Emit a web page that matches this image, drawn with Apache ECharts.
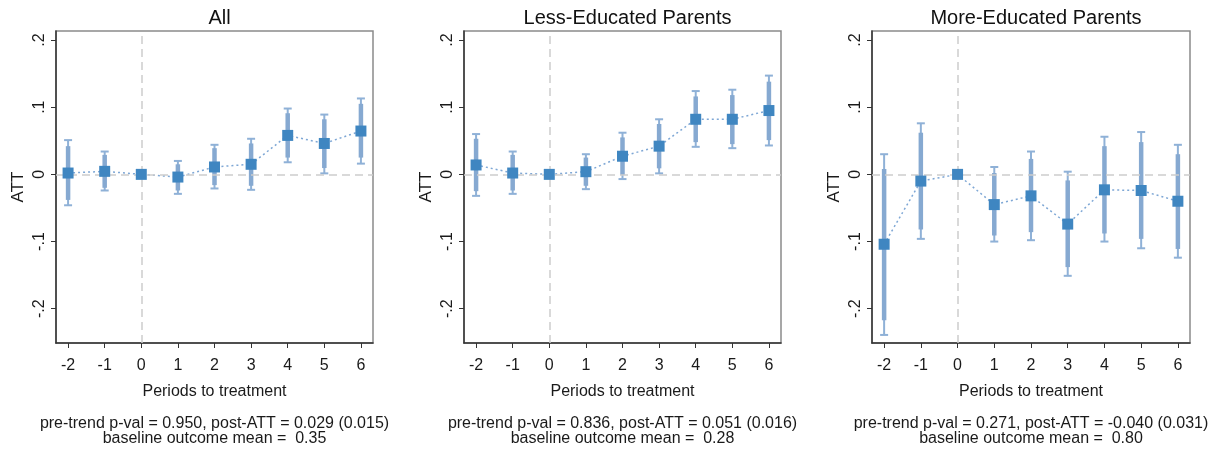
<!DOCTYPE html>
<html>
<head>
<meta charset="utf-8">
<script src="https://cdn.jsdelivr.net/npm/echarts@6/dist/echarts.min.js"></script>
<style>
html,body{margin:0;padding:0;background:#fff;}
#chart{width:1215px;height:451px;}
</style>
</head>
<body>
<div id="chart"></div>
<script>
// ---- data ----
const periods = [-2, -1, 0, 1, 2, 3, 4, 5, 6];
const yTicks = [-0.2, -0.1, 0, 0.1, 0.2];

const panelTitles = ['All', 'Less-Educated Parents', 'More-Educated Parents'];
const statLine1 = [
  'pre-trend p-val = 0.950, post-ATT = 0.029 (0.015)',
  'pre-trend p-val = 0.836, post-ATT = 0.051 (0.016)',
  'pre-trend p-val = 0.271, post-ATT = -0.040 (0.031)'
];
const statLine2 = [
  'baseline outcome mean =  0.35',
  'baseline outcome mean =  0.28',
  'baseline outcome mean =  0.80'
];

const allEst  = [0.002, 0.0045, 0, -0.004, 0.011, 0.015, 0.058, 0.046, 0.0645];
const allLo95 = [-0.046, -0.024, null, -0.029, -0.021, -0.023, 0.018, 0.0015, 0.016];
const allHi95 = [0.051, 0.034, null, 0.020, 0.044, 0.053, 0.098, 0.089, 0.113];
const allLoIn = [-0.038, -0.020, null, -0.024, -0.016, -0.017, 0.025, 0.0094, 0.025];
const allHiIn = [0.042, 0.029, null, 0.015, 0.039, 0.046, 0.091, 0.082, 0.105];

const lessEst  = [0.014, 0.002, 0, 0.004, 0.027, 0.042, 0.082, 0.082, 0.095];
const lessLo95 = [-0.032, -0.029, null, -0.022, -0.007, 0.0015, 0.041, 0.039, 0.043];
const lessHi95 = [0.060, 0.034, null, 0.030, 0.062, 0.082, 0.124, 0.126, 0.147];
const lessLoIn = [-0.025, -0.024, null, -0.017, -0.001, 0.009, 0.048, 0.045, 0.051];
const lessHiIn = [0.053, 0.029, null, 0.025, 0.055, 0.075, 0.116, 0.118, 0.138];

const moreEst  = [-0.104, -0.010, 0, -0.045, -0.032, -0.074, -0.023, -0.024, -0.040];
const moreLo95 = [-0.239, -0.096, null, -0.100, -0.098, -0.151, -0.100, -0.110, -0.124];
const moreHi95 = [0.030, 0.076, null, 0.011, 0.034, 0.004, 0.056, 0.063, 0.044];
const moreLoIn = [-0.217, -0.082, null, -0.091, -0.086, -0.138, -0.088, -0.096, -0.111];
const moreHiIn = [0.008, 0.062, null, 0.002, 0.023, -0.009, 0.042, 0.048, 0.030];

// ---- styling / layout ----
const FONT = "'Liberation Sans', Arial, sans-serif";
const CI_COLOR = '#8fb1d7';
const BAR_COLOR = '#86a9d1';
const MARK_COLOR = '#3f86c1';
const LINE_COLOR = '#7ea7d5';
const REF_COLOR = '#cdcdcd';

const grids = [
  {left: 56, top: 31, width: 317, height: 312},
  {left: 464, top: 31, width: 317, height: 312},
  {left: 872, top: 31, width: 318, height: 312}
];

const panels = [
  {est: allEst, lo95: allLo95, hi95: allHi95, loIn: allLoIn, hiIn: allHiIn},
  {est: lessEst, lo95: lessLo95, hi95: lessHi95, loIn: lessLoIn, hiIn: lessHiIn},
  {est: moreEst, lo95: moreLo95, hi95: moreHi95, loIn: moreLoIn, hiIn: moreHiIn}
];

function yFmt(v) {
  if (Math.abs(v) < 1e-9) return '0';
  return v.toFixed(1).replace('0.', '.');
}

function ciData(lo, hi) {
  const out = [];
  periods.forEach((p, i) => {
    if (lo[i] != null && hi[i] != null) out.push([p, lo[i], hi[i]]);
  });
  return out;
}

function renderThin(params, api) {
  const x = api.value(0);
  const a = api.coord([x, api.value(1)]);
  const b = api.coord([x, api.value(2)]);
  const st = {stroke: CI_COLOR, lineWidth: 2};
  const cw = 4;
  return {type: 'group', children: [
    {type: 'line', shape: {x1: a[0], y1: a[1], x2: b[0], y2: b[1]}, style: st},
    {type: 'line', shape: {x1: a[0] - cw, y1: a[1], x2: a[0] + cw, y2: a[1]}, style: st},
    {type: 'line', shape: {x1: b[0] - cw, y1: b[1], x2: b[0] + cw, y2: b[1]}, style: st}
  ]};
}

function renderThick(params, api) {
  const x = api.value(0);
  const a = api.coord([x, api.value(1)]);
  const b = api.coord([x, api.value(2)]);
  return {type: 'line', shape: {x1: a[0], y1: a[1], x2: b[0], y2: b[1]},
          style: {stroke: BAR_COLOR, lineWidth: 4.5}};
}

const xAxes = [], yAxes = [], series = [], titles = [], graphics = [];

grids.forEach((g, k) => {
  const cx = g.left + g.width / 2;
  xAxes.push({
    type: 'value', gridIndex: k, min: -2.33, max: 6.33,
    name: 'Periods to treatment', nameLocation: 'middle', nameGap: 41,
    nameTextStyle: {fontFamily: FONT, fontSize: 16, color: '#1a1a1a'},
    axisLine: {show: true, onZero: false, lineStyle: {color: '#333', width: 1.5}},
    axisTick: {show: true, length: 5, lineStyle: {color: '#333', width: 1}, customValues: periods},
    axisLabel: {fontFamily: FONT, fontSize: 16, color: '#1a1a1a', margin: 15, customValues: periods,
                formatter: v => String(v)},
    splitLine: {show: false}
  });
  yAxes.push({
    type: 'value', gridIndex: k, min: -0.251, max: 0.2134,
    name: 'ATT', nameLocation: 'middle', nameGap: 29, nameRotate: 90,
    nameTextStyle: {fontFamily: FONT, fontSize: 17, color: '#1a1a1a'},
    axisLine: {show: true, onZero: false, lineStyle: {color: '#333', width: 1.5}},
    axisTick: {show: true, length: 5, lineStyle: {color: '#333', width: 1}, customValues: yTicks},
    axisLabel: {fontFamily: FONT, fontSize: 16, color: '#1a1a1a', rotate: 90, margin: 8,
                customValues: yTicks, formatter: yFmt},
    splitLine: {show: false}
  });
  titles.push({
    text: panelTitles[k], left: cx, top: 3, textAlign: 'center',
    textStyle: {fontFamily: FONT, fontSize: 20, fontWeight: 'normal', color: '#111'}
  });
  graphics.push({
    type: 'text', x: cx, y: 424,
    style: {text: statLine1[k], fontFamily: FONT, fontSize: 16, fill: '#1a1a1a',
            textAlign: 'center', textVerticalAlign: 'middle', align: 'center', verticalAlign: 'middle'}
  });
  graphics.push({
    type: 'text', x: cx, y: 438.5,
    style: {text: statLine2[k], fontFamily: FONT, fontSize: 16, fill: '#1a1a1a',
            textAlign: 'center', textVerticalAlign: 'middle', align: 'center', verticalAlign: 'middle'}
  });

  const P = panels[k];
  const pts = periods.map((p, i) => [p, P.est[i]]);
  // reference lines
  series.push({
    type: 'line', xAxisIndex: k, yAxisIndex: k, data: [], z: 1, silent: true,
    markLine: {
      silent: true, symbol: 'none', label: {show: false},
      lineStyle: {type: [8, 5], color: REF_COLOR, width: 1.5},
      data: [{yAxis: 0}, {xAxis: 0}]
    }
  });
  series.push({
    type: 'custom', xAxisIndex: k, yAxisIndex: k, z: 2, silent: true,
    renderItem: renderThin, encode: {x: 0, y: [1, 2]}, data: ciData(P.lo95, P.hi95)
  });
  series.push({
    type: 'custom', xAxisIndex: k, yAxisIndex: k, z: 3, silent: true,
    renderItem: renderThick, encode: {x: 0, y: [1, 2]}, data: ciData(P.loIn, P.hiIn)
  });
  series.push({
    type: 'line', xAxisIndex: k, yAxisIndex: k, z: 4, silent: true,
    data: pts, showSymbol: false, symbol: 'none',
    lineStyle: {type: [2, 3], color: LINE_COLOR, width: 1.5}
  });
  series.push({
    type: 'scatter', xAxisIndex: k, yAxisIndex: k, z: 5, silent: true,
    data: pts, symbol: 'rect', symbolSize: 11,
    itemStyle: {color: MARK_COLOR, opacity: 1}
  });
});

const chart = echarts.init(document.getElementById('chart'), null, {renderer: 'canvas'});
chart.setOption({
  backgroundColor: '#fff',
  animation: false,
  title: titles,
  grid: grids.map(g => Object.assign({show: true, borderColor: '#8a8a8a', borderWidth: 1.5,
                                       backgroundColor: '#fff'}, g)),
  xAxis: xAxes,
  yAxis: yAxes,
  series: series,
  graphic: graphics
});
</script>
</body>
</html>
